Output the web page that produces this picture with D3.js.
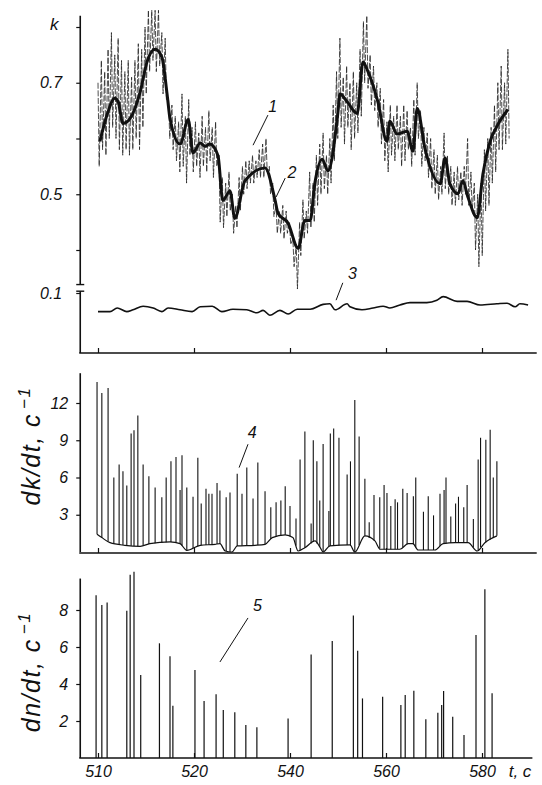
<!DOCTYPE html>
<html>
<head>
<meta charset="utf-8">
<script src="https://cdn.jsdelivr.net/npm/d3@7"></script>
<style>
body { margin: 0; background: #fff; }
svg { display: block; }
.lbl { font-family: "Liberation Sans Narrow", "Liberation Sans", sans-serif; font-style: italic; fill: #111; }
</style>
</head>
<body>
<svg id="chart" width="542" height="785"></svg>
<script>
// time axis (s)
const tTicks = [500, 520, 540, 560, 580];
const tLabels = ["510", "520", "540", "560", "580"];

// curve 1: raw k trace, high / low swings
const spikeT = [500.0,500.7,501.4,502.1,502.8,503.5,504.2,504.9,505.6,506.3,
  507.0,507.7,508.4,509.1,509.8,510.5,511.2,511.9,512.6,513.3,
  514.0,514.7,515.4,516.1,516.8,517.5,518.2,518.9,519.6,520.3,
  521.0,521.7,522.4,523.1,523.8,524.5,525.2,525.9,526.6,527.3,
  528.0,528.7,529.4,530.1,530.8,531.5,532.2,532.9,533.6,534.3,
  535.0,535.7,536.4,537.1,537.8,538.5,539.2,539.9,540.6,541.3,
  542.0,542.7,543.4,544.1,544.8,545.5,546.2,546.9,547.6,548.3,
  549.0,549.7,550.4,551.1,551.8,552.5,553.2,553.9,554.6,555.3,
  556.0,556.7,557.4,558.1,558.8,559.5,560.2,560.9,561.6,562.3,
  563.0,563.7,564.4,565.1,565.8,566.5,567.2,567.9,568.6,569.3,
  570.0,570.7,571.4,572.1,572.8,573.5,574.2,574.9,575.6,576.3,
  577.0,577.7,578.4,579.1,579.8,580.5,581.2,581.9,582.6,583.3,
  584.0,584.7,585.4];
const spikeHi = [0.70,0.74,0.72,0.76,0.79,0.75,0.78,0.74,0.72,0.74,
  0.71,0.74,0.77,0.76,0.80,0.83,0.83,0.83,0.83,0.79,
  0.78,0.67,0.66,0.64,0.63,0.68,0.64,0.67,0.62,0.63,
  0.61,0.64,0.62,0.65,0.62,0.63,0.57,0.53,0.52,0.54,
  0.50,0.48,0.53,0.55,0.56,0.56,0.57,0.56,0.58,0.59,
  0.60,0.55,0.52,0.48,0.47,0.48,0.47,0.45,0.42,0.41,
  0.45,0.49,0.47,0.54,0.52,0.57,0.59,0.61,0.57,0.60,
  0.66,0.72,0.78,0.71,0.73,0.70,0.72,0.70,0.76,0.81,
  0.82,0.75,0.73,0.70,0.69,0.67,0.63,0.66,0.64,0.66,
  0.64,0.66,0.65,0.62,0.67,0.70,0.65,0.62,0.61,0.60,
  0.58,0.57,0.55,0.61,0.57,0.55,0.54,0.55,0.54,0.55,
  0.60,0.54,0.52,0.50,0.52,0.58,0.60,0.62,0.66,0.70,
  0.73,0.70,0.76];
const spikeLo = [0.55,0.58,0.57,0.60,0.62,0.60,0.58,0.57,0.58,0.57,
  0.58,0.60,0.58,0.62,0.68,0.72,0.74,0.72,0.73,0.68,
  0.67,0.60,0.58,0.56,0.54,0.55,0.52,0.57,0.54,0.55,
  0.53,0.55,0.54,0.56,0.53,0.55,0.45,0.44,0.46,0.47,
  0.43,0.44,0.47,0.50,0.51,0.52,0.52,0.53,0.53,0.53,
  0.54,0.50,0.46,0.43,0.43,0.42,0.43,0.41,0.37,0.33,
  0.39,0.42,0.43,0.44,0.45,0.48,0.50,0.51,0.50,0.52,
  0.56,0.60,0.62,0.59,0.62,0.58,0.60,0.61,0.64,0.70,
  0.69,0.66,0.65,0.62,0.59,0.56,0.54,0.57,0.56,0.58,
  0.55,0.56,0.58,0.55,0.57,0.60,0.55,0.56,0.53,0.51,
  0.50,0.49,0.50,0.51,0.50,0.48,0.48,0.49,0.48,0.50,
  0.48,0.47,0.40,0.37,0.39,0.47,0.48,0.52,0.54,0.58,
  0.58,0.59,0.60];

// curve 2: smoothed k
const t2 = [500.4,501.9,503.5,504.2,505.2,506.7,508.8,510.2,511.9,513.3,
  514.4,515,517.1,518.8,519.8,521.3,522.3,523.3,525,526,
  527.5,528.5,530.6,534.8,536.9,537.5,539.6,541.7,543.1,544.2,
  545.2,546.7,547.9,550,550.4,551.9,554,555.2,556,558.3,
  560.2,560.8,562.3,564.4,565.6,566.5,568.1,571.3,572.3,573.3,
  575,576,577.1,579,580.2,581.7,583.3,585.4];
const k2 = [0.595,0.643,0.672,0.666,0.627,0.636,0.684,0.737,0.760,0.746,
  0.679,0.636,0.590,0.634,0.574,0.592,0.586,0.590,0.569,0.489,
  0.506,0.457,0.524,0.547,0.489,0.466,0.448,0.403,0.453,0.453,
  0.521,0.563,0.542,0.648,0.680,0.666,0.645,0.737,0.725,0.666,
  0.595,0.631,0.608,0.613,0.577,0.654,0.583,0.519,0.565,0.519,
  0.501,0.524,0.494,0.458,0.537,0.595,0.625,0.652];

// curve 3: low k
const t3 = [500,502.5,504,506,507.3,509.4,511.5,513.3,514.6,517.1,
  519.6,521.3,523.8,525.8,528.1,531,533.1,534.4,535.8,537.9,
  539.6,541.5,544.2,546.9,548.3,549.4,551.9,552.5,555,557.3,
  559.4,560.8,562.9,565,568.5,570.6,571.9,574.8,576.9,579.6,
  583.1,585.2,586.9,587.9,589.6];
const k3 = [0.069,0.069,0.075,0.069,0.072,0.078,0.075,0.069,0.075,0.072,
  0.069,0.077,0.078,0.069,0.073,0.072,0.067,0.071,0.063,0.071,
  0.065,0.073,0.073,0.081,0.082,0.072,0.082,0.077,0.072,0.075,
  0.078,0.075,0.080,0.084,0.084,0.088,0.094,0.086,0.086,0.080,
  0.082,0.083,0.077,0.082,0.080];

// curve 4: dk/dt peaks and the background level under them
const t4 = [499.8,500.8,502.1,503.3,504.4,505.2,506,506.9,507.5,508.3,
  509.4,510.6,511.9,513.3,514.2,515.2,516.25,517.1,517.5,518.5,
  519.8,520.8,521.5,522.5,523.1,523.75,524.8,525.4,526.7,527.5,
  529,530,531,532.3,533.3,534.8,536,537.1,538.1,539,
  540,541.25,542.1,543.1,544.4,544.85,545.6,546.2,546.9,548.1,
  548.4,549.1,550.2,551.9,552.6,553.5,554.4,555.6,556.5,557.5,
  558.7,559.6,560.2,561,561.9,562.4,563.5,564.4,565.7,566.2,
  567.8,568.8,569.9,571.25,572.1,572.5,573.5,574.5,575.1,576.2,
  576.9,578.2,579.2,579.7,580.8,581.7,582.35,583.1];
const v4 = [13.7,12.8,13.2,6.0,7.05,6.5,5.35,9.55,9.8,11.0,
  7.05,6.1,5.2,4.4,6.0,7.3,7.65,5.0,7.8,5.2,
  4.45,7.6,3.9,5.1,4.7,4.7,5.55,4.95,4.4,4.8,
  6.3,4.7,6.8,4.3,7.2,4.9,3.6,4.0,4.15,5.3,
  3.7,2.7,7.45,9.7,2.3,9.0,7.3,4.15,8.7,3.3,
  9.55,9.95,9.2,6.25,7.3,12.25,9.3,5.9,2.4,4.6,
  4.4,5.4,4.75,3.7,4.25,4.0,5.1,4.75,4.5,6.0,
  3.25,4.5,2.95,4.7,5.0,6.0,2.85,3.9,4.45,3.6,
  5.4,2.65,7.45,9.2,9.05,9.85,6.0,7.3];
const tBase = [499.8,500.8,502.5,505.6,508.8,510.8,515,517.1,518.5,521.3,
  524.4,525.4,526.5,527.9,529,532.7,534.8,536.3,539,540.6,
  541.7,543.1,545.2,546.3,546.9,548.3,552.5,553.5,555.6,557.7,
  558.8,562.9,564.6,565.6,566.7,570.2,571.9,574.4,577.1,579,
  580.6,583.1];
const vBase = [1.43,1.16,0.75,0.54,0.46,0.67,0.81,0.67,0.13,0.54,
  0.62,0.67,0.08,0.0,0.49,0.54,0.62,1.16,1.38,1.16,
  0.08,0.35,0.89,0.35,0.0,0.49,0.57,0.0,1.3,0.89,
  0.22,0.22,0.67,0.67,0.16,0.16,0.67,0.75,0.75,0.08,
  0.75,1.3];

// curve 5: dn/dt peaks
const t5 = [499.6,500.8,501.9,506.0,506.7,507.5,508.9,512.8,515,515.6,
  520.2,522.1,524.6,526.1,528.5,530.8,533.1,539.6,544.4,548.8,
  553.2,554.1,555.1,559.3,563.1,564.0,565.8,568.3,570.8,571.6,
  572.0,573.9,576.25,578.75,580.6,582.1];
const v5 = [8.8,8.27,8.4,7.96,9.9,10.07,4.49,6.2,5.5,2.83,
  4.76,3.08,3.44,2.6,2.47,1.78,1.66,2.14,5.6,6.32,
  7.7,5.8,3.22,3.31,2.86,3.4,3.64,2.09,2.45,2.86,
  3.62,2.23,1.24,6.65,9.12,3.5];

const kTicks = [0.4, 0.5, 0.6, 0.7, 0.8];
const kTickLabels = ["", "0.5", "", "0.7", ""];
const dkTicks = [3, 6, 9, 12];
const dnTicks = [2, 4, 6, 8];

const ink = '#111';
const svg = d3.select('#chart');

const x = d3.scaleLinear().domain([500, 580]).range([98, 482]);
const tStart = 496.3, tEnd = 591.4;

// panel scales
const yK = d3.scaleLinear().domain([0.4, 0.8]).range([250, 27]);
const yK3 = d3.scaleLinear().domain([0, 0.1]).range([353, 293]);
const yD = d3.scaleLinear().domain([0, 12]).range([552, 403]);
const yN = d3.scaleLinear().domain([0, 8]).range([758, 610]);

function bottomAxis(yPos, withLabels, tRight) {
    const ax = d3.axisBottom(x).tickValues(tTicks).tickSize(-5).tickSizeOuter(0).tickPadding(8)
                 .tickFormat((d, i) => withLabels ? tLabels[i] : '');
    const g = svg.append('g').attr('transform', `translate(0,${yPos})`).call(ax);
    g.select('.domain').remove();
    g.append('line').attr('x1', x(tStart) - 1).attr('x2', x(tRight))
        .attr('stroke', ink).attr('stroke-width', 1.6);
    g.selectAll('.tick line').attr('stroke', ink).attr('stroke-width', 1.2);
    g.selectAll('.tick text').attr('class', 'lbl').style('font-size', '16px');
    return g;
}

function leftAxis(scale, ticks, fmt, pad) {
    const ax = d3.axisLeft(scale).tickValues(ticks).tickSize(4).tickSizeOuter(0).tickPadding(pad)
                 .tickFormat(fmt);
    const g = svg.append('g').attr('transform', `translate(${x(tStart)},0)`).call(ax);
    g.select('.domain').remove();
    g.selectAll('.tick line').attr('stroke', ink).attr('stroke-width', 1.2);
    g.selectAll('.tick text').attr('class', 'lbl').style('font-size', '16px');
    return g;
}

function vline(v1, v2, scale) {
    svg.append('line').attr('x1', x(tStart)).attr('x2', x(tStart))
        .attr('y1', scale(v1)).attr('y2', scale(v2))
        .attr('stroke', ink).attr('stroke-width', 1.6);
}

// ---------- panel 1: k ----------
vline(0.338, 0.82, yK);
vline(0, 0.103, yK3);
[yK(0.338), yK3(0.103)].forEach(yy => {
    svg.append('line').attr('x1', x(tStart) - 4).attr('x2', x(tStart) + 4)
        .attr('y1', yy).attr('y2', yy).attr('stroke', ink).attr('stroke-width', 1.4);
});
leftAxis(yK, kTicks, (d, i) => kTickLabels[i], 14);
leftAxis(yK3, [0.1], () => '0.1', 14);
bottomAxis(353, false, tEnd);

svg.append('text').attr('class', 'lbl').attr('x', 50).attr('y', 30)
    .style('font-size', '17px').text('k');

// curve 1 as a zig-zag between high and low swings
const zig = [];
spikeT.forEach((t, i) => {
    zig.push([t, spikeHi[i]]);
    zig.push([t + 0.25, spikeLo[i]]);
});
svg.append('path')
    .attr('d', d3.line().x(d => x(d[0])).y(d => yK(d[1]))(zig))
    .attr('fill', 'none').attr('stroke', '#222').attr('stroke-width', 0.8)
    .attr('stroke-dasharray', '6,1.6');

// curve 2
svg.append('path')
    .attr('d', d3.line().x(d => x(d[0])).y(d => yK(d[1])).curve(d3.curveMonotoneX)(d3.zip(t2, k2)))
    .attr('fill', 'none').attr('stroke', ink).attr('stroke-width', 3)
    .attr('stroke-linejoin', 'round');

// curve 3
svg.append('path')
    .attr('d', d3.line().x(d => x(d[0])).y(d => yK3(d[1])).curve(d3.curveMonotoneX)(d3.zip(t3, k3)))
    .attr('fill', 'none').attr('stroke', ink).attr('stroke-width', 1.6);

// ---------- panel 2: dk/dt ----------
vline(0, 14.4, yD);
leftAxis(yD, dkTicks, d => d, 8);
bottomAxis(553, false, tEnd);

const baseAt = t => {
    const i = d3.bisectLeft(tBase, t);
    if (i <= 0) return vBase[0];
    if (i >= tBase.length) return vBase[vBase.length - 1];
    const f = (t - tBase[i - 1]) / (tBase[i] - tBase[i - 1]);
    return vBase[i - 1] + f * (vBase[i] - vBase[i - 1]);
};

svg.append('path')
    .attr('d', d3.line().x(d => x(d[0])).y(d => yD(d[1])).curve(d3.curveMonotoneX)(d3.zip(tBase, vBase)))
    .attr('fill', 'none').attr('stroke', ink).attr('stroke-width', 1.2);

svg.append('g').selectAll('line')
    .data(d3.zip(t4, v4))
    .enter()
    .append('line')
    .attr('x1', d => x(d[0])).attr('x2', d => x(d[0]))
    .attr('y1', d => yD(baseAt(d[0]))).attr('y2', d => yD(d[1]))
    .attr('stroke', ink).attr('stroke-width', 1.1);

// ---------- panel 3: dn/dt ----------
vline(0, 9.7, yN);
leftAxis(yN, dnTicks, d => d, 8);
bottomAxis(758, true, 590.5);

svg.append('g').selectAll('line')
    .data(d3.zip(t5, v5))
    .enter()
    .append('line')
    .attr('x1', d => x(d[0])).attr('x2', d => x(d[0]))
    .attr('y1', yN(0)).attr('y2', d => yN(d[1]))
    .attr('stroke', ink).attr('stroke-width', 1.2);

svg.append('text').attr('class', 'lbl').attr('x', 520).attr('y', 777)
    .attr('text-anchor', 'middle').style('font-size', '17px').text('t, c');

// rotated axis titles
function yTitle(cx, cy, main) {
    const t = svg.append('text').attr('class', 'lbl')
        .attr('transform', `translate(${cx},${cy}) rotate(-90)`)
        .attr('text-anchor', 'middle')
        .style('font-size', '25px').style('letter-spacing', '1.5px');
    t.append('tspan').text(main);
    t.append('tspan').attr('dx', 4).attr('dy', -10).style('font-size', '17px').text('−1');
}
yTitle(40, 446, 'dk/dt, c');
yTitle(40, 672, 'dn/dt, c');

// curve numbers with leader lines
function tag(scale, tx, vx, t1, v1, t2_, v2, label) {
    svg.append('line').attr('x1', x(t1)).attr('y1', scale(v1))
        .attr('x2', x(t2_)).attr('y2', scale(v2))
        .attr('stroke', ink).attr('stroke-width', 1);
    svg.append('text').attr('class', 'lbl').attr('x', x(tx)).attr('y', scale(vx))
        .attr('text-anchor', 'middle').style('font-size', '16px').text(label);
}
tag(yK, 536.4, 0.648, 532.3, 0.588, 535.4, 0.642, '1');
tag(yK, 540.4, 0.529, 537.1, 0.495, 539.0, 0.529, '2');
tag(yK3, 553.0, 0.123, 549.6, 0.088, 551.0, 0.117, '3');
tag(yD, 532.1, 9.16, 529.4, 6.8, 531.25, 8.68, '4');
tag(yN, 533.2, 7.95, 525.4, 5.19, 531.25, 7.57, '5');
</script>
</body>
</html>
